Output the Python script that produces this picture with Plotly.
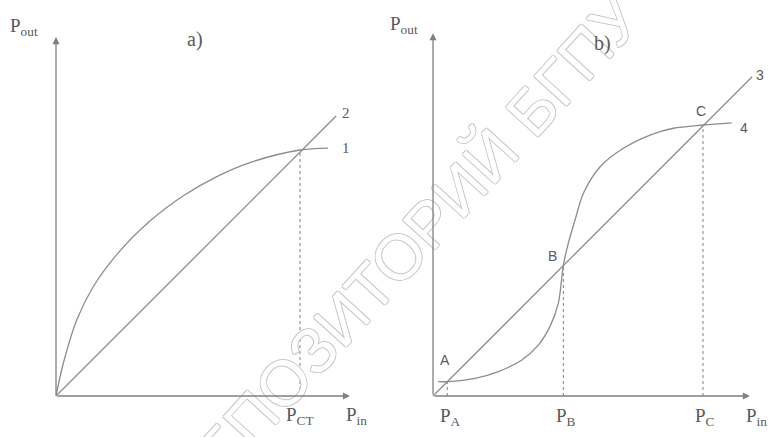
import plotly.graph_objects as go

# ---- panel a) : saturating curve 1 and straight line 2 ----
pin_curve1 = [0, 0.030, 0.085, 0.153, 0.249, 0.385, 0.522, 0.659, 0.795, 1.0, 1.115]
pout_curve1 = [0, 0.133, 0.309, 0.445, 0.575, 0.711, 0.814, 0.892, 0.949, 1.0, 1.008]
pin_line2 = [0, 1.148]
pout_line2 = [0, 1.138]
p_ct = 1.0

# ---- panel b) : S-shaped curve 4 and straight line 3 ----
pin_curve4 = [0.019, 0.053, 0.156, 0.242, 0.329, 0.390, 0.433, 0.464, 0.483, 0.501,
              0.526, 0.557, 0.619, 0.705, 0.804, 0.890, 1.0, 1.106]
pout_curve4 = [0.053, 0.053, 0.065, 0.090, 0.133, 0.188, 0.256, 0.342, 0.483, 0.563,
               0.649, 0.748, 0.846, 0.914, 0.963, 0.988, 1.0, 1.008]
pin_line3 = [0, 1.182]
pout_line3 = [0, 1.178]
p_points = {"A": 0.053, "B": 0.483, "C": 1.0}

# axis arrow tips (data units)
tip_a = (1.205, 1.459)
tip_b = (1.174, 1.339)

LINE = "#8c8c8c"
AXIS = "#808080"
TEXT = "#5a5a5a"
SERIF = "Liberation Serif"
SANS = "Liberation Sans"

fig = go.Figure()

def curve(x, y, xa, ya, spline=True, dash="solid", width=1.3):
    fig.add_trace(go.Scatter(
        x=x, y=y, xaxis=xa, yaxis=ya, mode="lines",
        line=dict(color=LINE, width=width, dash=dash,
                  shape="spline" if spline else "linear", smoothing=0.9),
        hoverinfo="skip", showlegend=False))

# panel a
curve(pin_curve1, pout_curve1, "x", "y")
curve(pin_line2, pout_line2, "x", "y", spline=False)
curve([p_ct, p_ct], [0, 1.0], "x", "y", spline=False, dash="dot", width=1.1)

# panel b
curve(pin_curve4, pout_curve4, "x2", "y2")
curve(pin_line3, pout_line3, "x2", "y2", spline=False)
for name, p in p_points.items():
    curve([p, p], [0, p], "x2", "y2", spline=False, dash="dot", width=1.1)

annotations = []

# repository watermark (outlined letters), listed first so labels sit on top of it
annotations.append(dict(
    x=0.522, y=0.425, xref="paper", yref="paper", text="РЕПОЗИТОРИЙ БГПУ",
    showarrow=False, textangle=-47.6,
    font=dict(family=SANS, size=64, color="white",
              shadow="1px 0 0 #c4c4c4, -1px 0 0 #c4c4c4, 0 1px 0 #c4c4c4, 0 -1px 0 #c4c4c4"),
    xanchor="center", yanchor="middle"))

def arrow(xref, yref, x0, y0, x1, y1):
    annotations.append(dict(
        x=x1, y=y1, ax=x0, ay=y0, xref=xref, yref=yref, axref=xref, ayref=yref,
        text="", showarrow=True, arrowhead=2, arrowsize=1.1, arrowwidth=1.3,
        arrowcolor=AXIS, standoff=0, startstandoff=0))

def label(xref, yref, x, y, text, family=SERIF, size=19, xs=0, ys=0,
          xanchor="center", yanchor="middle"):
    annotations.append(dict(
        x=x, y=y, xref=xref, yref=yref, text=text, showarrow=False,
        font=dict(family=family, size=size, color=TEXT),
        xshift=xs, yshift=ys, xanchor=xanchor, yanchor=yanchor))

# axes with arrows
arrow("x", "y", 0, 0, tip_a[0], 0)
arrow("x", "y", 0, 0, 0, tip_a[1])
arrow("x2", "y2", 0, 0, tip_b[0], 0)
arrow("x2", "y2", 0, 0, 0, tip_b[1])

# panel a labels
label("x", "y", 0, tip_a[1], "P<sub>out</sub>", xs=-32, ys=10)
label("x", "y", 0.57, tip_a[1], "a)", size=20, ys=-2)
label("x", "y", p_ct, 0, "P<sub>CT</sub>", ys=-20)
label("x", "y", 1.23, 0, "P<sub>in</sub>", ys=-20)
label("x", "y", pin_line2[-1], pout_line2[-1], "2", size=15, xs=10, ys=3)
label("x", "y", pin_curve1[-1], pout_curve1[-1], "1", size=15, xs=18, ys=0)

# panel b labels
label("x2", "y2", 0, tip_b[1], "P<sub>out</sub>", xs=-29, ys=8)
label("x2", "y2", 0.628, tip_b[1], "b)", size=20, ys=-10)
label("x2", "y2", p_points["A"], 0, "P<sub>A</sub>", ys=-21, xs=3)
label("x2", "y2", p_points["B"], 0, "P<sub>B</sub>", ys=-21, xs=3)
label("x2", "y2", p_points["C"], 0, "P<sub>C</sub>", ys=-21, xs=2)
label("x2", "y2", 1.186, 0, "P<sub>in</sub>", ys=-21, xs=3)
label("x2", "y2", p_points["A"], p_points["A"], "A", family=SANS, size=14, xs=-2, ys=22)
label("x2", "y2", p_points["B"], p_points["B"], "B", family=SANS, size=14, xs=-11, ys=9)
label("x2", "y2", p_points["C"], p_points["C"], "C", family=SANS, size=14, xs=-2, ys=14)
label("x2", "y2", pin_line3[-1], pout_line3[-1], "3", family=SANS, size=14, xs=8, ys=2)
label("x2", "y2", pin_curve4[-1], pout_curve4[-1], "4", family=SANS, size=14, xs=12, ys=-5)

hidden = dict(visible=False, showgrid=False, zeroline=False, fixedrange=True)
fig.update_layout(
    width=772, height=437,
    margin=dict(l=0, r=0, t=0, b=0),
    paper_bgcolor="white", plot_bgcolor="white",
    xaxis=dict(domain=[0, 0.5], range=[-0.2295, 1.3525], **hidden),
    yaxis=dict(domain=[0, 1], range=[-0.1667, 1.6098], **hidden),
    xaxis2=dict(domain=[0.5, 1], range=[-0.1741, 1.2556], anchor="y2", **hidden),
    yaxis2=dict(domain=[0, 1], range=[-0.1513, 1.4613], anchor="x2", **hidden),
    annotations=annotations,
)

fig.write_html("out.html")
